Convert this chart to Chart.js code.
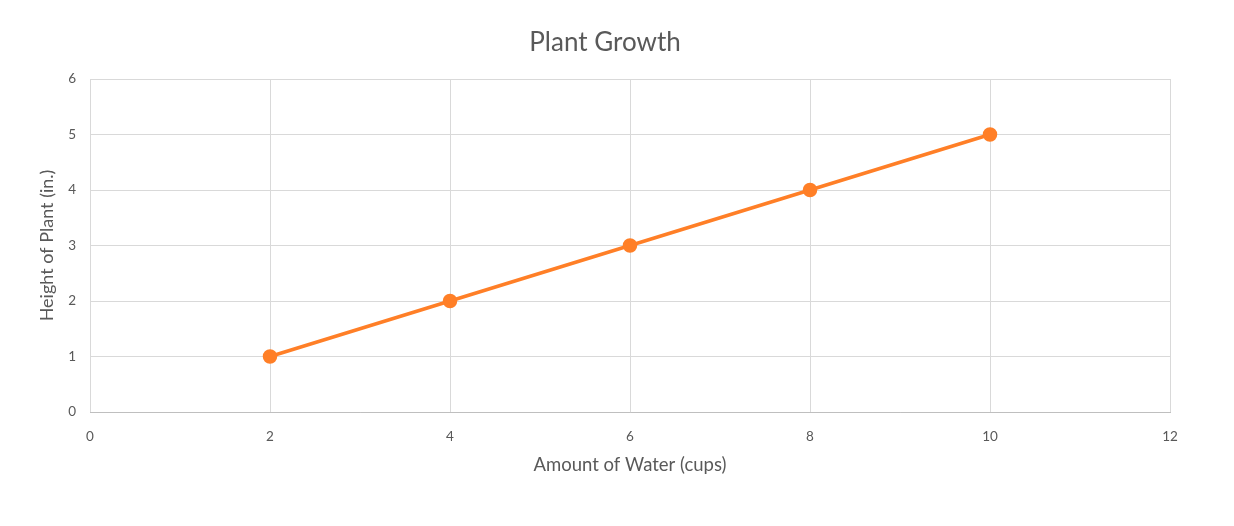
<!DOCTYPE html>
<html>
<head>
<meta charset="utf-8">
<script src="https://cdn.jsdelivr.net/npm/chart.js@4/dist/chart.umd.min.js"></script>
<style>
  html, body { margin: 0; padding: 0; background: #fff; }
  #wrap { width: 1234px; height: 526px; }
</style>
</head>
<body>
<div id="wrap"><canvas id="chartGrowth" width="1234" height="526"></canvas></div>
<script>
// data
const waterCups = [2, 4, 6, 8, 10];
const plantHeight = [1, 2, 3, 4, 5];
const xTicks = [0, 2, 4, 6, 8, 10, 12];
const yTicks = [0, 1, 2, 3, 4, 5, 6];

const points = waterCups.map((x, i) => ({ x: x, y: plantHeight[i] }));

const textGray = '#595959';
const fontName = 'Lato, "Open Sans", sans-serif';

const ctx = document.getElementById('chartGrowth');

const chart = new Chart(ctx, {
    type: 'line',
    data: {
        datasets: [{
            label: 'Height',
            data: points,
            borderColor: '#FF7F27',
            backgroundColor: '#FF7F27',
            borderWidth: 3.5,
            pointRadius: 5.5,
            pointHoverRadius: 5.5,
            tension: 0,
        }]
    },
    options: {
        responsive: false,
        animation: false,
        devicePixelRatio: 1,
        // left padding pushes the chart title to the right, y axis makes up the rest
        layout: { padding: { left: 40, right: 64, top: 0, bottom: 0 } },
        plugins: {
            legend: { display: false },
            tooltip: { enabled: false },
            title: {
                display: true,
                text: 'Plant Growth',
                color: textGray,
                font: { family: fontName, size: 26, weight: 'normal', lineHeight: 1.2 },
                padding: { top: 27.4, bottom: 20.4 },
            },
        },
        scales: {
            x: {
                type: 'linear',
                min: 0,
                max: 12,
                afterBuildTicks: (s) => { s.ticks = xTicks.map(v => ({ value: v })); },
                afterFit: (s) => { s.height = 114; },
                ticks: {
                    color: textGray,
                    font: { family: fontName, size: 13.5 },
                    padding: 17,
                    maxRotation: 0,
                },
                grid: { color: '#d9d9d9', drawTicks: false, lineWidth: 1 },
                border: { color: '#bfbfbf', width: 1 },
                title: {
                    display: true,
                    text: 'Amount of Water (cups)',
                    color: textGray,
                    font: { family: fontName, size: 18.5, lineHeight: 1.2 },
                    padding: { top: 0, bottom: 50 },
                },
            },
            y: {
                type: 'linear',
                min: 0,
                max: 6,
                afterBuildTicks: (s) => { s.ticks = yTicks.map(v => ({ value: v })); },
                afterFit: (s) => { s.width = 50; },
                ticks: {
                    color: textGray,
                    font: { family: fontName, size: 13.5 },
                    padding: 14,
                },
                grid: { color: '#d9d9d9', drawTicks: false, lineWidth: 1 },
                border: { display: false },
                title: {
                    display: true,
                    text: 'Height of Plant (in.)',
                    color: textGray,
                    font: { family: fontName, size: 18, lineHeight: 0.8 },
                    padding: { top: 0, bottom: 0 },
                },
            },
        },
    },
});
</script>
</body>
</html>
